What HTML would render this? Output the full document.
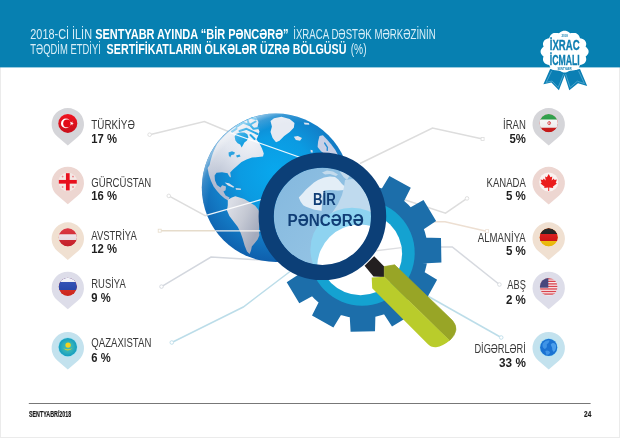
<!DOCTYPE html>
<html lang="az">
<head>
<meta charset="utf-8">
<title>İxrac icmalı – Sentyabr 2018</title>
<style>
html,body{margin:0;padding:0;background:#fff;}
body{width:620px;height:438px;overflow:hidden;}
svg{display:block;}
text{font-family:"Liberation Sans",sans-serif;}
.hr{fill:#d8eef8;font-size:13.8px;}
.hb{fill:#ffffff;font-size:13.8px;font-weight:bold;}
.nm{fill:#383838;font-size:12.2px;}
.pc{fill:#1f1f1f;font-size:12.2px;font-weight:bold;}
.ft{fill:#1c1c1c;font-size:8.5px;font-weight:bold;stroke:#1c1c1c;stroke-width:0.2;}
.cn{fill:none;stroke:#dddddd;stroke-width:1.5;}
.cd{fill:#fff;stroke:#c9c9c9;stroke-width:0.8;}
</style>
</head>
<body>
<svg width="620" height="438" viewBox="0 0 620 438">
<defs>
<radialGradient id="gGlobe" cx="276" cy="172" r="94" gradientUnits="userSpaceOnUse">
<stop offset="0" stop-color="#08a8ee"/><stop offset="0.38" stop-color="#0b9be2"/><stop offset="0.7" stop-color="#137ac4"/><stop offset="1" stop-color="#0e5aa8"/>
</radialGradient>
<radialGradient id="gRim" cx="300" cy="216" r="108" gradientUnits="userSpaceOnUse">
<stop offset="0.86" stop-color="#ffffff" stop-opacity="0"/><stop offset="0.95" stop-color="#ffffff" stop-opacity="0.18"/><stop offset="1" stop-color="#ffffff" stop-opacity="0.5"/>
</radialGradient>
<linearGradient id="gLensGlobe" x1="275" y1="170" x2="345" y2="230" gradientUnits="userSpaceOnUse"><stop offset="0" stop-color="#84b8de"/><stop offset="1" stop-color="#93c3e4"/></linearGradient>
<linearGradient id="gRed" x1="0" y1="-9" x2="0" y2="9" gradientUnits="userSpaceOnUse"><stop offset="0" stop-color="#f0131f"/><stop offset="1" stop-color="#c9101b"/></linearGradient>
<radialGradient id="gLand" cx="250" cy="140" r="58" gradientUnits="userSpaceOnUse">
<stop offset="0" stop-color="#f1f3f8"/><stop offset="0.42" stop-color="#dde2ec"/><stop offset="0.75" stop-color="#c3cad9"/><stop offset="1" stop-color="#b1bad0"/>
</radialGradient>
<linearGradient id="gLand2" x1="228" y1="210" x2="260" y2="225" gradientUnits="userSpaceOnUse">
<stop offset="0" stop-color="#dadde5"/><stop offset="0.5" stop-color="#c4c8d3"/><stop offset="1" stop-color="#a4abbd"/>
</linearGradient>
<clipPath id="cGlobe"><circle cx="276" cy="187.8" r="74.2"/></clipPath>
<clipPath id="cLens"><circle cx="322.4" cy="216.3" r="49"/></clipPath>
<clipPath id="cFlag"><circle cx="0" cy="0" r="9.4"/></clipPath>
<clipPath id="cF91"><circle cx="0" cy="0" r="9.1"/></clipPath>
<clipPath id="cF89"><circle cx="0" cy="0" r="8.9"/></clipPath>
<linearGradient id="gGloss" x1="0" y1="-9" x2="0" y2="9" gradientUnits="userSpaceOnUse"><stop offset="0" stop-color="#ffffff" stop-opacity="0.10"/><stop offset="1" stop-color="#000000" stop-opacity="0.10"/></linearGradient>
<radialGradient id="gKz" cx="0" cy="0" r="9.2" gradientUnits="userSpaceOnUse"><stop offset="0" stop-color="#46bdb4"/><stop offset="0.6" stop-color="#2fb0ba"/><stop offset="1" stop-color="#149cc0"/></radialGradient>
</defs>
<rect x="0" y="0" width="620" height="438" fill="#ffffff"/>
<rect x="0.5" y="0.5" width="619" height="437" fill="none" stroke="#ebebeb" stroke-width="1"/>
<rect x="0" y="0" width="620" height="67.4" fill="#0780b1"/>
<text class="hr" x="30.3" y="39.3" textLength="61.7" lengthAdjust="spacingAndGlyphs">2018-Cİ İLİN</text>
<text class="hb" x="95.2" y="39.3" textLength="193.4" lengthAdjust="spacingAndGlyphs">SENTYABR AYINDA “BİR PƏNCƏRƏ”</text>
<text class="hr" x="293.2" y="39.3" textLength="142.6" lengthAdjust="spacingAndGlyphs">İXRACA DƏSTƏK MƏRKƏZİNİN</text>
<text class="hr" x="30.3" y="54.2" textLength="70.6" lengthAdjust="spacingAndGlyphs">TƏQDİM ETDİYİ</text>
<text class="hb" x="106.6" y="54.2" textLength="239.8" lengthAdjust="spacingAndGlyphs">SERTİFİKATLARIN ÖLKƏLƏR ÜZRƏ BÖLGÜSÜ</text>
<text class="hr" x="350.7" y="54.2" textLength="15.9" lengthAdjust="spacingAndGlyphs">(%)</text>
<g id="badge">
<path d="M550.1 69.0 L543.4 84.3 L551.4 82.6 L558.9 90.3 L566.0 72.0 Z" fill="#0b7fb4"/>
<path d="M563.4 72.0 L569.3 90.3 L578.0 83.3 L587.2 86.1 L580.0 69.0 Z" fill="#0b7fb4"/>
<path d="M551.6 71.0 L546.2 82.4 L552.0 81.0 L558.2 87.4 L563.6 74.0" fill="none" stroke="#6fbbdc" stroke-width="0.6"/>
<path d="M565.6 74.0 L570.2 87.4 L577.4 81.2 L584.4 83.6 L578.6 71.0" fill="none" stroke="#6fbbdc" stroke-width="0.6"/>
<path d="M588.6 51.6 L588.5 52.7 L588.1 53.7 L587.4 54.7 L586.6 55.7 L585.6 56.5 L586.0 57.6 L586.2 58.8 L586.2 59.9 L585.9 61.0 L585.4 62.0 L584.7 62.9 L583.7 63.7 L582.6 64.2 L581.3 64.7 L580.0 65.0 L579.6 66.1 L579.1 67.2 L578.5 68.2 L577.6 69.0 L576.6 69.7 L575.5 70.1 L574.2 70.3 L572.9 70.3 L571.5 70.2 L570.2 69.9 L569.3 70.7 L568.2 71.4 L567.1 72.0 L565.9 72.4 L564.6 72.5 L563.3 72.4 L562.1 72.0 L561.0 71.4 L559.9 70.7 L559.0 69.9 L557.7 70.2 L556.3 70.3 L555.0 70.3 L553.7 70.1 L552.6 69.7 L551.6 69.0 L550.7 68.2 L550.1 67.2 L549.6 66.1 L549.2 65.0 L547.9 64.7 L546.6 64.2 L545.5 63.7 L544.5 62.9 L543.8 62.0 L543.3 61.0 L543.0 59.9 L543.0 58.8 L543.2 57.6 L543.6 56.5 L542.6 55.7 L541.8 54.7 L541.1 53.7 L540.7 52.7 L540.6 51.6 L540.7 50.5 L541.1 49.5 L541.8 48.5 L542.6 47.5 L543.6 46.7 L543.2 45.6 L543.0 44.4 L543.0 43.3 L543.3 42.2 L543.8 41.2 L544.5 40.3 L545.5 39.5 L546.6 39.0 L547.9 38.5 L549.2 38.2 L549.6 37.1 L550.1 36.0 L550.7 35.0 L551.6 34.2 L552.6 33.5 L553.7 33.1 L555.0 32.9 L556.3 32.9 L557.7 33.0 L559.0 33.3 L559.9 32.5 L561.0 31.8 L562.1 31.2 L563.3 30.8 L564.6 30.7 L565.9 30.8 L567.1 31.2 L568.2 31.8 L569.3 32.5 L570.2 33.3 L571.5 33.0 L572.9 32.9 L574.2 32.9 L575.5 33.1 L576.6 33.5 L577.6 34.2 L578.5 35.0 L579.1 36.0 L579.6 37.1 L580.0 38.2 L581.3 38.5 L582.6 39.0 L583.7 39.5 L584.7 40.3 L585.4 41.2 L585.9 42.2 L586.2 43.3 L586.2 44.4 L586.0 45.6 L585.6 46.7 L586.6 47.5 L587.4 48.5 L588.1 49.5 L588.5 50.5 Z" fill="#ffffff"/>
<text x="564.6" y="37.4" text-anchor="middle" font-size="2.8" font-weight="bold" fill="#0f7fb2">2018</text>
<text x="549.8" y="50.4" textLength="29.8" lengthAdjust="spacingAndGlyphs" font-size="14" font-weight="bold" fill="#0f7fb2" stroke="#0f7fb2" stroke-width="0.35">İXRAC</text>
<text x="549.8" y="64.6" textLength="29.8" lengthAdjust="spacingAndGlyphs" font-size="14" font-weight="bold" fill="#0f7fb2" stroke="#0f7fb2" stroke-width="0.35">İCMALI</text>
<text x="564.6" y="70" text-anchor="middle" font-size="2.6" font-weight="bold" fill="#0f7fb2">SENTYABR</text>
</g>
<g id="connectors">
<path class="cn" style="stroke:#dddddd" d="M149.6 134.7 L204.4 121.6 L232.0 133.0" stroke="#dddddd"/>
<circle cx="149.6" cy="134.7" r="1.8" fill="#fff" stroke="#dddddd" stroke-width="0.9"/>
<path class="cn" style="stroke:#dddddd" d="M168.8 195.9 L205.2 215.6 L212.0 213.6" stroke="#dddddd"/>
<circle cx="168.8" cy="195.9" r="1.8" fill="#fff" stroke="#dddddd" stroke-width="0.9"/>
<path class="cn" style="stroke:#e6dccb" d="M159.7 230.7 L215.0 230.7" stroke="#e6dccb"/>
<rect x="158.2" y="229.2" width="3" height="3" fill="#fff" stroke="#e6dccb" stroke-width="0.8"/>
<path class="cn" style="stroke:#d3d7de" d="M161.5 286.6 L211.0 257.0 L276.0 260.8" stroke="#d3d7de"/>
<circle cx="161.5" cy="286.6" r="1.8" fill="#fff" stroke="#d3d7de" stroke-width="0.9"/>
<path class="cn" style="stroke:#bcdde9" d="M171.8 342.5 L243.3 307.0 L292.0 270.0" stroke="#bcdde9"/>
<circle cx="171.8" cy="342.5" r="1.8" fill="#fff" stroke="#bcdde9" stroke-width="0.9"/>
<path class="cn" style="stroke:#dddddd" d="M482.6 139.0 L432.5 128.0 L360.0 163.5" stroke="#dddddd"/>
<rect x="481.1" y="137.5" width="3" height="3" fill="#fff" stroke="#dddddd" stroke-width="0.8"/>
<path class="cn" style="stroke:#dddddd" d="M467.0 198.4 L445.5 213.2 L403.0 199.2" stroke="#dddddd"/>
<circle cx="467.0" cy="198.4" r="1.8" fill="#fff" stroke="#dddddd" stroke-width="0.9"/>
<path class="cn" style="stroke:#eddfd2" d="M487.5 231.6 L445 221.7 L430 221.7"/>
<rect x="485.6" y="229.6" width="3" height="3" fill="#fff" stroke="#efe3d8" stroke-width="0.8"/>
<path class="cn" style="stroke:#d6d9df" d="M499.4 284.5 L452.3 247.0 L438.0 247.0" stroke="#d6d9df"/>
<circle cx="499.4" cy="284.5" r="1.8" fill="#fff" stroke="#d6d9df" stroke-width="0.9"/>
<path class="cn" style="stroke:#bcdde9" d="M501.2 337.5 L425.0 294.5" stroke="#bcdde9"/>
<circle cx="501.2" cy="337.5" r="1.8" fill="#fff" stroke="#bcdde9" stroke-width="0.9"/>
</g>
<g id="gear">
<path d="M294.9 251.7 A66.5 66.5 0 1 1 427.9 251.7 A66.5 66.5 0 1 1 294.9 251.7 Z M421.7 237.6 L441.0 238.1 L441.4 262.5 L422.1 263.6 Z M420.6 269.7 L437.1 279.7 L425.3 301.1 L408.0 292.4 Z M403.7 296.9 L413.0 313.8 L392.0 326.4 L381.4 310.3 Z M375.5 312.0 L375.0 331.3 L350.6 331.7 L349.5 312.4 Z M343.4 310.9 L333.4 327.4 L312.0 315.6 L320.7 298.3 Z M316.2 294.0 L299.3 303.3 L286.7 282.3 L302.8 271.7 Z M301.1 265.8 L281.8 265.3 L281.4 240.9 L300.7 239.8 Z M302.2 233.7 L285.7 223.7 L297.5 202.3 L314.8 211.0 Z M319.1 206.5 L309.8 189.6 L330.8 177.0 L341.4 193.1 Z M379.4 192.5 L389.4 176.0 L410.8 187.8 L402.1 205.1 Z M406.6 209.4 L423.5 200.1 L436.1 221.1 L420.0 231.7 Z" fill="#1c6eaa"/>
<circle cx="362" cy="253.0" r="52.7" fill="#14a2d1"/>
<circle cx="360.5" cy="253.6" r="41.6" fill="#ffffff"/>
<path d="M401.6 247.6 L374 251" fill="none" stroke="#dcdde0" stroke-width="1.4"/>
</g>
<g id="globe">
<circle cx="276" cy="187.8" r="74.2" fill="url(#gGlobe)"/>
<g clip-path="url(#cGlobe)">
<path d="M209.6 164.9 L210.4 161.3 L211.4 157.7 L212.6 154.1 L214.0 150.5 L215.6 147.1 L217.4 143.6 L219.8 140.6 L222.3 137.7 L225.0 135.0 L227.8 132.4 L230.8 130.0 L233.9 127.7 L237.1 125.6 L240.4 123.6 L243.8 121.8 L247.3 120.2 L250.9 118.8 L254.5 117.6 L256.0 117.5 L258.5 122.0 L257.5 127.0 L259.5 131.5 L258.0 136.0 L256.5 139.5 L259.5 143.5 L262.0 148.5 L263.8 153.5 L263.0 156.4 L258.2 157.0 L252.0 157.6 L246.5 159.4 L241.5 162.0 L237.0 166.0 L233.0 169.5 L230.2 172.6 L231.0 177.4 L229.3 176.4 L227.6 173.2 L222.0 172.2 L216.5 172.8 L214.6 175.5 L215.0 180.5 L217.0 185.0 L220.4 187.6 L222.2 185.2 L226.0 186.4 L225.6 190.2 L223.4 191.6 L225.6 195.4 L229.5 197.6 L228.2 200.6 L224.7 198.6 L220.6 195.0 L217.0 191.0 L213.6 186.6 L211.0 181.0 L208.8 174.5 L207.6 168.0 Z" fill="url(#gLand)"/>
<path d="M234.6 136.4 L236.4 133.8 L240.0 132.6 L244.4 132.6 L247.4 134.2 L248.4 137.4 L247.0 140.6 L244.4 142.6 L243.0 145.2 L241.6 147.4 L240.2 144.6 L237.6 143.2 L235.4 140.4 Z" fill="#17a0e2"/>
<path d="M236.5 127 L243 122.6 L249.5 125 L255.5 121.5 M246.5 116 L248.6 123.5 L253.5 128.8 L258.5 128 M239.5 131 L246.5 128.8 L252 131.4 L257.6 134 M250.5 135 L254.6 139 M232 131.6 L236.4 128.6 M252 118 L256 119" fill="none" stroke="#1fa4e4" stroke-width="2" stroke-linecap="round" stroke-linejoin="round"/>
<path d="M228.5 152.5 L232 151.2 L235 152.6 L234 154.6 L231.4 155 L230.2 157.4 L228.8 155.4 Z M236 155.6 L239.5 154.6 L240.5 156.4 L237 157.4 Z" fill="#2aa2e0"/>
<path d="M227.8 199.8 L231.9 197.5 L235.3 196.2 L239.5 197.5 L244.2 198.9 L249.7 202.3 L255.2 205.8 L258.6 209.9 L259.8 214.0 L259.6 219.5 L259.4 225.6 L258.8 231.1 L259.4 235.2 L257.6 239.6 L254.4 243.4 L251.8 246.6 L251.0 250.5 L249.6 254.0 L247.0 251.4 L244.6 245.6 L242.6 238.6 L240.6 232.8 L237.8 227.0 L233.6 221.5 L229.4 216.0 L227.0 210.5 L227.8 205.1 Z" fill="url(#gLand2)"/>
<path d="M224.6 182.6 L229 183.2 L234.2 186.8 L233.4 187.8 L228 185.4 Z" fill="#d9dfea"/>
<path d="M235.6 188 L240.8 188.6 L241 190 L236 189.8 Z" fill="#cfd6e2"/>
<path d="M270.5 121.0 L274.0 118.2 L281.5 116.8 L289.7 118.9 L294.5 123.0 L293.8 127.8 L289.7 131.9 L284.2 136.0 L279.5 140.8 L276.0 142.2 L272.6 138.1 L270.5 131.9 L271.9 126.4 Z" fill="#e6eaf2"/>
<path d="M293.8 136.7 L297.9 136.0 L302.0 138.1 L300.0 140.8 L295.9 140.1 Z" fill="#dfe4ee"/>
<path d="M319.5 136.0 L322.9 135.3 L327.0 139.5 L331.1 144.2 L335.2 149.7 L338.5 156.0 L330.0 157.0 L324.2 153.8 L320.8 151.1 L317.6 147.0 L318.1 141.5 Z" fill="#c9d0e6"/>
<path d="M324.6 143 L327.4 147.4 L327.2 150.4" fill="none" stroke="#2a8fd6" stroke-width="1.4" stroke-linecap="round"/>
<path d="M310.5 149.7 L312.6 150.2 L312.8 152.6 L310.8 152.4 Z" fill="#d5dbea"/>
<path d="M303.7 122.6 L308.8 123 L309.4 124.8 L304.6 124.6 Z" fill="#dfe4f0"/>
<circle cx="276" cy="187.8" r="74.2" fill="url(#gRim)"/>
<path d="M230.4 132.8 L316 163" stroke="#ffffff" stroke-width="1.2" fill="none" opacity="0.92"/>
<path d="M205.2 215.6 L262 199.4" stroke="#ffffff" stroke-width="1.2" fill="none" opacity="0.92"/>
<path d="M207 230.9 L262 230.9" stroke="#fbf4ef" stroke-width="1.2" fill="none" opacity="0.95"/>
</g>
</g>
<g id="magnifier">
<path d="M374.2 256.2 L364.6 265.8 L373.5 276.5 L384.4 277.0 L384.4 266.8 Z" fill="#231f20"/>
<g clip-path="url(#cLens)">
<circle cx="322.4" cy="216.3" r="49" fill="url(#gLensGlobe)"/>
<path d="M298.8 197.5 L303.0 193.0 L306.0 189.5 L310.0 186.0 L314.0 182.5 L318.0 180.0 L324.0 177.6 L330.0 176.5 L335.0 177.0 L338.3 179.4 L342.0 184.0 L345.5 187.0 L345.0 190.0 L338.0 190.5 L330.0 190.0 L324.0 190.5 L322.5 197.0 L322.0 204.0 L321.6 210.8 L314.4 209.8 L306.0 206.8 L303.2 205.3 L300.5 201.5 Z" fill="#e3eef7"/>
<path d="M322 172.5 L327 170.5 L333 171.5 L338 174.5 L336 176 L330 174 L325 174.6 Z M340 172 L346 171 L350 175 L347 180 L343.5 177 Z" fill="#c3dbed"/>
<path d="M345.0 180.0 L352.0 179.0 L360.0 181.0 L374.0 184.0 L374.0 218.0 L330.0 216.0 L334.0 210.0 L338.0 204.0 L342.0 195.0 L344.0 187.0 Z" fill="#bfdaee"/>
<circle cx="352" cy="249.3" r="41.6" fill="#8ed3f0"/>
<circle cx="359.7" cy="267" r="42.5" fill="#ffffff"/>
</g>
<circle cx="322.4" cy="216.3" r="56.2" fill="none" stroke="#0c3f77" stroke-width="15.2"/>
<text class="" x="312.9" y="205.4" textLength="22.8" lengthAdjust="spacingAndGlyphs" font-size="17.2" font-weight="bold" fill="#103e76">BİR</text>
<text class="" x="287.6" y="225.7" textLength="76.2" lengthAdjust="spacingAndGlyphs" font-size="17.2" font-weight="bold" fill="#103e76">PƏNCƏRƏ</text>
<path d="M384.3 266.6 L394.7 264.8 L452.5 320.5 Q456.6 325.5 455.9 330 Q455 335.5 449.7 340.4 L384.3 276.7 Z" fill="#98a526" stroke="#98a526" stroke-width="0.7" stroke-linejoin="round"/>
<path d="M371.7 277.4 L384.3 276.7 L449.7 340.4 Q443 346 436 347.3 Q431 347.6 427.5 343.8 L372.2 288.2 Z" fill="#b9cc2b"/>
</g>
<g id="pins">
<path d="M57.3 136.6 A16.2 16.2 0 1 1 78.3 136.6 L67.8 145.6 Z" fill="#d5d5d9"/>
<g transform="translate(67.8 123.4)"><circle r="9.5" fill="url(#gRed)"/><circle cx="-1.9" cy="0" r="4.9" fill="#fff"/><circle cx="-0.7" cy="0" r="3.9" fill="#e30a17"/><path d="M4.6 -2.1 L4.6 -0.5 L6.1 0.0 L4.6 0.5 L4.6 2.1 L3.6 0.9 L2.1 1.3 L3.0 0.0 L2.1 -1.3 L3.6 -0.9 Z" fill="#fff"/></g>
<text class="nm" x="91.3" y="128.6" textLength="43.5" lengthAdjust="spacingAndGlyphs">TÜRKİYƏ</text>
<text class="pc" x="91.3" y="143.0" textLength="25.7" lengthAdjust="spacingAndGlyphs">17 %</text>
<path d="M57.3 195.3 A16.2 16.2 0 1 1 78.3 195.3 L67.8 204.3 Z" fill="#edd6d1"/>
<g transform="translate(67.8 181.8)"><circle r="9.4" fill="#f5e8e5"/><rect x="-1.85" y="-8.6" width="3.7" height="17.2" fill="#e8101e"/><rect x="-9" y="-1.85" width="18" height="3.7" fill="#e8101e"/><path d="M-6.1 -5.2 h1.8 M-5.2 -6.1 v1.8" stroke="#e8101e" stroke-width="0.7" opacity="0.55"/><path d="M-6.1 5.2 h1.8 M-5.2 4.3 v1.8" stroke="#e8101e" stroke-width="0.7" opacity="0.55"/><path d="M4.3 -5.2 h1.8 M5.2 -6.1 v1.8" stroke="#e8101e" stroke-width="0.7" opacity="0.55"/><path d="M4.3 5.2 h1.8 M5.2 4.3 v1.8" stroke="#e8101e" stroke-width="0.7" opacity="0.55"/></g>
<text class="nm" x="91.3" y="186.5" textLength="60.0" lengthAdjust="spacingAndGlyphs">GÜRCÜSTAN</text>
<text class="pc" x="91.3" y="199.7" textLength="25.7" lengthAdjust="spacingAndGlyphs">16 %</text>
<path d="M57.3 250.9 A16.2 16.2 0 1 1 78.3 250.9 L67.8 259.9 Z" fill="#f0e0d1"/>
<g transform="translate(67.8 237.4)"><g clip-path="url(#cFlag)"><circle r="9.1" fill="#d8232e"/><path d="M-10 -10 H10 V2.70 H-10 Z" fill="#f6eaf0" clip-path="url(#cF91)"/><path d="M-10 -10 H10 V-3.20 H-10 Z" fill="#d8232e" clip-path="url(#cF91)"/><circle r="9.1" fill="url(#gGloss)"/></g></g>
<text class="nm" x="91.3" y="239.6" textLength="45.5" lengthAdjust="spacingAndGlyphs">AVSTRİYA</text>
<text class="pc" x="91.3" y="253.1" textLength="25.7" lengthAdjust="spacingAndGlyphs">12 %</text>
<path d="M57.3 300.3 A16.2 16.2 0 1 1 78.3 300.3 L67.8 309.3 Z" fill="#dddde9"/>
<g transform="translate(67.8 286.8)"><g clip-path="url(#cFlag)"><circle r="9.1" fill="#e0291f"/><path d="M-10 -10 H10 V3.10 H-10 Z" fill="#2346b4" clip-path="url(#cF91)"/><path d="M-10 -10 H10 V-4.90 H-10 Z" fill="#f4f4fa" clip-path="url(#cF91)"/><circle r="9.1" fill="url(#gGloss)"/></g></g>
<text class="nm" x="91.3" y="287.6" textLength="34.4" lengthAdjust="spacingAndGlyphs">RUSİYA</text>
<text class="pc" x="91.3" y="301.8" textLength="19.3" lengthAdjust="spacingAndGlyphs">9 %</text>
<path d="M57.3 360.5 A16.2 16.2 0 1 1 78.3 360.5 L67.8 369.5 Z" fill="#c3e2ee"/>
<g transform="translate(67.8 347.1)"><circle r="9.8" fill="#9fe3f2"/><circle r="9.2" fill="url(#gKz)"/><circle cx="0.3" cy="-2" r="2.7" fill="#f6d21c"/><path d="M-4.6 1.2 Q0 5.6 4.6 1.2 Q0 3.2 -4.6 1.2 Z" fill="#c9cf3a"/></g>
<text class="nm" x="91.3" y="347.1" textLength="60.0" lengthAdjust="spacingAndGlyphs">QAZAXISTAN</text>
<text class="pc" x="91.3" y="361.6" textLength="19.3" lengthAdjust="spacingAndGlyphs">6 %</text>
<path d="M538.2 136.6 A16.2 16.2 0 1 1 559.2 136.6 L548.7 145.6 Z" fill="#d5d5d9"/>
<g transform="translate(548.7 123.2)"><g clip-path="url(#cFlag)"><circle r="9.1" fill="#d81a1a"/><path d="M-10 -10 H10 V4.50 H-10 Z" fill="#ffffff" clip-path="url(#cF91)"/><path d="M-10 -10 H10 V-3.60 H-10 Z" fill="#1f9a3d" clip-path="url(#cF91)"/><circle r="9.1" fill="url(#gGloss)"/></g><circle cx="0.5" cy="-0.1" r="1.5" fill="none" stroke="#d8353a" stroke-width="0.7"/><rect x="0.2" y="-2" width="0.6" height="3.8" fill="#d8353a"/></g>
<text class="nm" x="503.0" y="128.6" textLength="22.8" lengthAdjust="spacingAndGlyphs">İRAN</text>
<text class="pc" x="509.4" y="143.0" textLength="16.4" lengthAdjust="spacingAndGlyphs">5%</text>
<path d="M538.2 195.4 A16.2 16.2 0 1 1 559.2 195.4 L548.7 204.4 Z" fill="#edd6d1"/>
<g transform="translate(548.7 182.0)"><circle r="9.6" fill="#faf2f0"/><path d="M0 -6.6 L1.5 -3.9 L3 -4.6 L2.5 -1.2 L4.3 -2.9 L4.8 -1.7 L6.8 -2 L5.9 0.6 L6.8 1.2 L3.4 3.9 L3.8 5 L0.4 4.5 L0.4 7.4 L-0.4 7.4 L-0.4 4.5 L-3.8 5 L-3.4 3.9 L-6.8 1.2 L-5.9 0.6 L-6.8 -2 L-4.8 -1.7 L-4.3 -2.9 L-2.5 -1.2 L-3 -4.6 L-1.5 -3.9 Z" fill="#ea1c1c" transform="scale(1.2)"/></g>
<text class="nm" x="486.6" y="186.5" textLength="39.2" lengthAdjust="spacingAndGlyphs">KANADA</text>
<text class="pc" x="505.9" y="199.7" textLength="19.9" lengthAdjust="spacingAndGlyphs">5 %</text>
<path d="M538.2 250.9 A16.2 16.2 0 1 1 559.2 250.9 L548.7 259.9 Z" fill="#f0e0d1"/>
<g transform="translate(548.7 237.4)"><g clip-path="url(#cFlag)"><circle r="9.1" fill="#ffc90a"/><path d="M-10 -10 H10 V3.50 H-10 Z" fill="#dd1010" clip-path="url(#cF91)"/><path d="M-10 -10 H10 V-3.50 H-10 Z" fill="#141414" clip-path="url(#cF91)"/><circle r="9.1" fill="url(#gGloss)"/></g></g>
<text class="nm" x="477.8" y="241.5" textLength="48.0" lengthAdjust="spacingAndGlyphs">ALMANİYA</text>
<text class="pc" x="505.9" y="255.0" textLength="19.9" lengthAdjust="spacingAndGlyphs">5 %</text>
<path d="M538.2 300.3 A16.2 16.2 0 1 1 559.2 300.3 L548.7 309.3 Z" fill="#dddde9"/>
<g transform="translate(548.7 286.9)"><g clip-path="url(#cF89)"><rect x="-9" y="-9" width="18" height="18" fill="#f7eff1"/><rect x="-9" y="-8.75" width="18" height="1.32" fill="#d8434d"/><rect x="-9" y="-6.21" width="18" height="1.32" fill="#d8434d"/><rect x="-9" y="-3.66" width="18" height="1.32" fill="#d8434d"/><rect x="-9" y="-1.12" width="18" height="1.32" fill="#d8434d"/><rect x="-9" y="1.42" width="18" height="1.32" fill="#d8434d"/><rect x="-9" y="3.96" width="18" height="1.32" fill="#d8434d"/><rect x="-9" y="6.51" width="18" height="1.32" fill="#d8434d"/><rect x="-9" y="-9" width="8.6" height="9.80" fill="#47477d"/></g></g>
<text class="nm" x="507.3" y="289.2" textLength="18.5" lengthAdjust="spacingAndGlyphs">ABŞ</text>
<text class="pc" x="505.9" y="304.1" textLength="19.9" lengthAdjust="spacingAndGlyphs">2 %</text>
<path d="M538.2 360.5 A16.2 16.2 0 1 1 559.2 360.5 L548.7 369.5 Z" fill="#c3e2ee"/>
<g transform="translate(548.7 347.4)"><circle r="9.3" fill="#a9e4f4"/><circle r="8.6" fill="#1a72d2"/><path d="M-6 -4 Q-3 -7.5 1 -7 Q0 -4 -2 -3 Q-1 0 -4 1.5 Q-7 0 -6 -4 Z" fill="#3f94e6"/><path d="M2 -3 Q5 -6 7.3 -2.5 Q8 2 5 4.6 Q3 3 3.5 0.5 Z" fill="#4a9eec"/><path d="M-3.4 3.5 Q0 2.5 1.5 5 Q0 8 -2.5 7 Z" fill="#3f94e6"/></g>
<text class="nm" x="474.4" y="352.9" textLength="51.4" lengthAdjust="spacingAndGlyphs">DİGƏRLƏRİ</text>
<text class="pc" x="499.1" y="367.4" textLength="26.7" lengthAdjust="spacingAndGlyphs">33 %</text>
</g>
<rect x="28.8" y="403" width="561.8" height="0.8" fill="#555"/>
<text class="ft" x="29.0" y="416.5" textLength="42.2" lengthAdjust="spacingAndGlyphs">SENTYABR/2018</text>
<text class="ft" x="584.1" y="416.5" textLength="7.1" lengthAdjust="spacingAndGlyphs">24</text>
</svg>
</body>
</html>
